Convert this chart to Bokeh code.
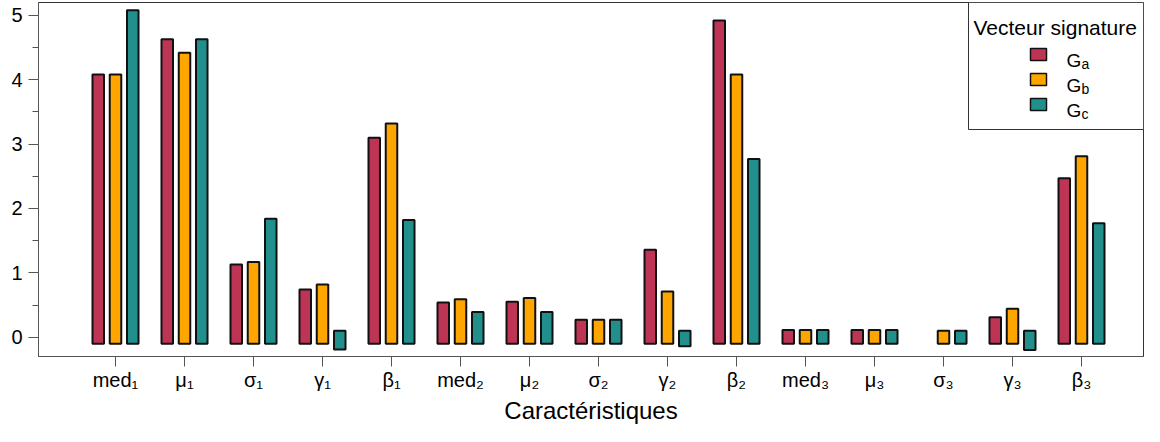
import math
from bokeh.plotting import figure
from bokeh.models import FixedTicker, Range1d, BoxAnnotation, Label, ColumnDataSource
from bokeh.embed import file_html
from bokeh.resources import INLINE

# ---------------- data ----------------
categories = ["med₁", "μ₁", "σ₁", "γ₁", "β₁",
              "med₂", "μ₂", "σ₂", "γ₂", "β₂",
              "med₃", "μ₃", "σ₃", "γ₃", "β₃"]
series_subscripts = ["a", "b", "c"]
Ga = [3.98, 4.53, 1.03, 0.64, 3.00, 0.44, 0.45, 0.17, 1.26, 4.82, 0.01, 0.01, float("nan"), 0.21, 2.37]
Gb = [3.98, 4.32, 1.07, 0.72, 3.22, 0.49, 0.51, 0.17, 0.61, 3.98, 0.01, 0.01, 0.00, 0.34, 2.71]
Gc = [4.98, 4.53, 1.74, -0.09, 1.72, 0.29, 0.29, 0.17, -0.04, 2.67, 0.01, 0.01, 0.00, -0.10, 1.67]
series = [Ga, Gb, Gc]
colors = ["#BE3455", "#FFA500", "#21908C"]
y_ticks = [0, 1, 2, 3, 4, 5]
y_minor_ticks = [0.5, 1.5, 2.5, 3.5, 4.5]
PAD = 0.1  # bars are drawn padded by this amount around [0, value]

# ---------------- layout ----------------
W, H = 1144, 426
BL, BR, BT, BB = 38, 1, 2, 70
PXX = 69.0
FL, FR = BL, W - BR
FT, FB = BT, H - BB
XR = (-0.116, -0.116 + (FR - FL) / PXX)
YR = (-0.3, 5.2)
PXY = (FB - FT) / (YR[1] - YR[0])


def fx(px):
    return XR[0] + (px - FL) / PXX


def fy(py):
    return YR[0] + (FB - py) / PXY


p = figure(width=W, height=H, x_range=Range1d(*XR), y_range=Range1d(*YR),
           output_backend="svg", toolbar_location=None,
           min_border_left=BL, min_border_right=BR, min_border_top=BT, min_border_bottom=BB)
p.xgrid.grid_line_color = None
p.ygrid.grid_line_color = None
p.background_fill_color = "white"
p.border_fill_color = "white"
p.outline_line_color = "#333333"
p.outline_line_width = 1

offsets = [-0.25, 0.0, 0.25]
for vals, off, col in zip(series, offsets, colors):
    xs, tops, bottoms = [], [], []
    for i, v in enumerate(vals):
        if math.isnan(v):
            continue
        xs.append(i + 1 + off)
        tops.append(max(v, 0) + PAD)
        bottoms.append(min(v, 0) - PAD)
    src = ColumnDataSource(dict(x=xs, top=tops, bottom=bottoms))
    p.vbar(x="x", top="top", bottom="bottom", width=0.167, source=src,
           fill_color=col, line_color="#111111", line_width=2)

# axes
p.xaxis.ticker = FixedTicker(ticks=list(range(1, len(categories) + 2)))
overrides = {i + 1: c for i, c in enumerate(categories)}
overrides[len(categories) + 1] = ""
p.xaxis.major_label_overrides = overrides
p.xaxis.axis_label = "Caractéristiques"
p.yaxis.ticker = FixedTicker(ticks=y_ticks, minor_ticks=y_minor_ticks)

for ax in (p.xaxis[0], p.yaxis[0]):
    ax.axis_line_color = "#555555"
    ax.axis_line_width = 1
    ax.major_tick_line_color = "#555555"
    ax.minor_tick_line_color = "#555555"
    ax.major_tick_in = 0
    ax.major_tick_out = 10
    ax.minor_tick_in = 0
    ax.minor_tick_out = 6
    ax.major_label_text_font = "Liberation Sans"
    ax.major_label_text_font_size = "20px"
    ax.major_label_text_color = "black"
    ax.axis_label_text_font = "Liberation Sans"
    ax.axis_label_text_font_size = "24px"
    ax.axis_label_text_font_style = "normal"
    ax.axis_label_text_color = "black"
p.xaxis.minor_tick_line_color = None
p.xaxis.major_label_standoff = 2
p.xaxis.axis_label_standoff = 3
p.yaxis.major_label_standoff = 6

# legend (custom, for subscripts)
LX = FR - 175
p.add_layout(BoxAnnotation(left=fx(LX), right=XR[1], top=YR[1], bottom=fy(129),
                           fill_color="white", fill_alpha=1.0,
                           line_color="#333333", line_width=1, line_alpha=1.0))
p.add_layout(Label(x=fx(LX + 5), y=fy(27), text="Vecteur signature",
                   text_font="Liberation Sans", text_font_size="21px",
                   text_baseline="alphabetic", text_align="left", text_color="black"))
for k, (sub, col) in enumerate(zip(series_subscripts, colors)):
    cy = 54 + 25 * k
    p.add_layout(BoxAnnotation(left=fx(LX + 62), right=fx(LX + 78), top=fy(cy - 6), bottom=fy(cy + 6),
                               fill_color=col, fill_alpha=1.0,
                               line_color="#111111", line_width=1.5, line_alpha=1.0))
    p.add_layout(Label(x=fx(LX + 98), y=fy(cy + 6), text="G",
                       text_font="Liberation Sans", text_font_size="19px",
                       text_baseline="alphabetic", text_align="left", text_color="black"))
    p.add_layout(Label(x=fx(LX + 113), y=fy(cy + 9), text=sub,
                       text_font="Liberation Sans", text_font_size="14px",
                       text_baseline="alphabetic", text_align="left", text_color="black"))

open("out.html", "w").write(file_html(p, INLINE))
